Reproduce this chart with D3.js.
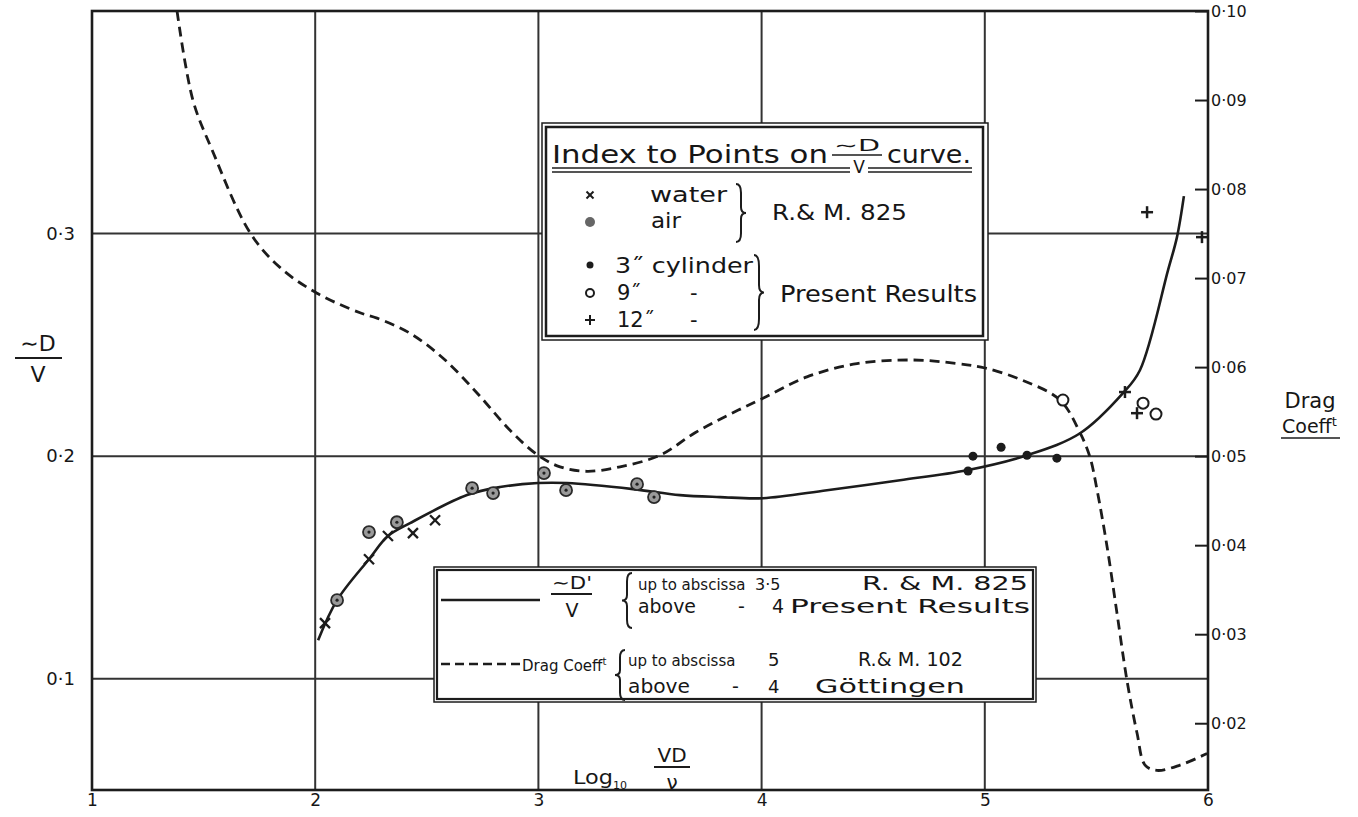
<!DOCTYPE html>
<html><head><meta charset="utf-8">
<script src="https://cdn.jsdelivr.net/npm/d3@7"></script>
<style>
body{margin:0;background:#fff}
text{font-family:"DejaVu Sans",sans-serif;fill:#161616}
</style>
</head><body>
<svg id="c" width="1358" height="817"></svg>
<script>
// ---------- data ----------
const xTicks = [1, 2, 3, 4, 5, 6];
const xTickLabels = ["1", "2", "3", "4", "5", "6"];
const leftTicks = [0.1, 0.2, 0.3];
const leftTickLabels = ["0·1", "0·2", "0·3"];
const rightTicks = [0.02, 0.03, 0.04, 0.05, 0.06, 0.07, 0.08, 0.09, 0.10];
const rightTickLabels = ["0·02", "0·03", "0·04", "0·05", "0·06", "0·07", "0·08", "0·09", "0·10"];

// nu D / V curve (left axis)
const nuCurveX = [2.013, 2.098, 2.241, 2.326, 2.425, 2.68, 2.828, 2.998, 3.128, 3.424, 3.634, 3.814, 4.006, 4.293, 4.62, 4.92, 5.189, 5.427, 5.619, 5.695, 5.821, 5.861, 5.892];
const nuCurveY = [0.1173, 0.1353, 0.1537, 0.1641, 0.1699, 0.1825, 0.1861, 0.1879, 0.1879, 0.1852, 0.1825, 0.1816, 0.1811, 0.1847, 0.1892, 0.1937, 0.2004, 0.2103, 0.2283, 0.2386, 0.2836, 0.2984, 0.3168];

// Drag coefficient curve (right axis)
const dragX = [1.381, 1.452, 1.538, 1.708, 1.842, 2.008, 2.201, 2.277, 2.425, 2.573, 2.725, 2.873, 2.998, 3.097, 3.218, 3.366, 3.545, 3.70, 3.85, 4.006, 4.203, 4.427, 4.678, 4.875, 5.001, 5.171, 5.337, 5.427, 5.471, 5.503, 5.548, 5.592, 5.637, 5.682, 5.718, 5.771, 5.875, 5.996];
const dragY = [0.100, 0.0900, 0.0844, 0.0751, 0.0712, 0.0683, 0.0661, 0.0655, 0.0638, 0.0610, 0.0571, 0.0529, 0.0501, 0.0488, 0.0483, 0.0488, 0.0501, 0.0526, 0.0546, 0.0565, 0.0589, 0.0604, 0.0608, 0.0604, 0.0599, 0.0585, 0.0563, 0.0526, 0.0499, 0.0462, 0.0398, 0.0324, 0.0248, 0.0189, 0.0153, 0.0147, 0.0153, 0.0166];

// points
const waterX = [2.044, 2.241, 2.326, 2.438, 2.537];
const waterY = [0.1250, 0.1537, 0.1641, 0.1654, 0.1712];
const airX = [2.098, 2.241, 2.366, 2.703, 2.797, 3.025, 3.124, 3.442, 3.518];
const airY = [0.1353, 0.1659, 0.1703, 0.1856, 0.1834, 0.1924, 0.1847, 0.1874, 0.1816];
const cyl3X = [4.947, 4.925, 5.073, 5.189, 5.323];
const cyl3Y = [0.2000, 0.1933, 0.2040, 0.2004, 0.1991];
const cyl9X = [5.350, 5.709, 5.767];
const cyl9Y = [0.2252, 0.2238, 0.2189];
const cyl12X = [5.628, 5.682, 5.727, 5.973];
const cyl12Y = [0.2288, 0.2193, 0.3096, 0.2984];

// ---------- drawing ----------
const svg = d3.select("#c");
const ink = "#1c1c1c";
const x = d3.scaleLinear([1, 6], [92, 1208]);
const yL = d3.scaleLinear([0.05, 0.4], [790, 11]);
const yR = d3.scaleLinear([0.0125, 0.1], [790, 11]);

// grid
const g = svg.append("g");
g.selectAll(".vg").data(xTicks.slice(1, -1)).join("line")
  .attr("x1", d => x(d)).attr("x2", d => x(d)).attr("y1", yL(0.4)).attr("y2", yL(0.05))
  .attr("stroke", "#333").attr("stroke-width", 2);
g.selectAll(".hg").data(leftTicks).join("line")
  .attr("x1", x(1)).attr("x2", x(6)).attr("y1", d => yL(d)).attr("y2", d => yL(d))
  .attr("stroke", "#333").attr("stroke-width", 2);
// frame
svg.append("rect").attr("x", x(1)).attr("y", yL(0.4)).attr("width", x(6) - x(1)).attr("height", yL(0.05) - yL(0.4))
  .attr("fill", "none").attr("stroke", ink).attr("stroke-width", 2.6);

// axes (labels)
const axB = svg.append("g").attr("transform", `translate(0,${yL(0.05)})`)
  .call(d3.axisBottom(x).tickValues(xTicks).tickSize(0).tickPadding(4).tickFormat((d, i) => xTickLabels[i]));
axB.select(".domain").remove();
axB.selectAll("text").attr("font-size", 17).attr("font-family", "DejaVu Sans").attr("fill", ink);

const axL = svg.append("g").attr("transform", `translate(78,0)`)
  .call(d3.axisLeft(yL).tickValues(leftTicks).tickSize(0).tickPadding(3).tickFormat((d, i) => leftTickLabels[i]));
axL.select(".domain").remove();
axL.selectAll("text").attr("font-size", 18).attr("font-family", "DejaVu Sans").attr("fill", ink);

const axR = svg.append("g").attr("transform", `translate(${x(6)},0)`)
  .call(d3.axisRight(yR).tickValues(rightTicks).tickSizeInner(-13).tickPadding(3).tickFormat((d, i) => rightTickLabels[i]));
axR.select(".domain").remove();
axR.selectAll("line").attr("stroke", ink).attr("stroke-width", 2);
axR.selectAll("text").attr("font-size", 16).attr("font-family", "DejaVu Sans").attr("fill", ink);

// curves
const nuData = nuCurveX.map((v, i) => [v, nuCurveY[i]]);
const dragData = dragX.map((v, i) => [v, dragY[i]]);
svg.append("path").datum(nuData)
  .attr("d", d3.line().x(d => x(d[0])).y(d => yL(d[1])).curve(d3.curveCatmullRom.alpha(0.5)))
  .attr("fill", "none").attr("stroke", ink).attr("stroke-width", 2.6);
svg.append("path").datum(dragData)
  .attr("d", d3.line().x(d => x(d[0])).y(d => yR(d[1])).curve(d3.curveCatmullRom.alpha(0.5)))
  .attr("fill", "none").attr("stroke", ink).attr("stroke-width", 2.8).attr("stroke-dasharray", "10,6");

// markers
function cross(sel, px, py, s, w) {
  sel.append("line").attr("x1", px - s).attr("x2", px + s).attr("y1", py - s).attr("y2", py + s).attr("stroke", ink).attr("stroke-width", w);
  sel.append("line").attr("x1", px - s).attr("x2", px + s).attr("y1", py + s).attr("y2", py - s).attr("stroke", ink).attr("stroke-width", w);
}
function plus(sel, px, py, s, w) {
  sel.append("line").attr("x1", px - s).attr("x2", px + s).attr("y1", py).attr("y2", py).attr("stroke", ink).attr("stroke-width", w);
  sel.append("line").attr("x1", px).attr("x2", px).attr("y1", py - s).attr("y2", py + s).attr("stroke", ink).attr("stroke-width", w);
}
const mk = svg.append("g");
waterX.forEach((v, i) => cross(mk, x(v), yL(waterY[i]), 5, 2.3));
airX.forEach((v, i) => {
  mk.append("circle").attr("cx", x(v)).attr("cy", yL(airY[i])).attr("r", 6).attr("fill", "#9a9a9a").attr("stroke", "#2a2a2a").attr("stroke-width", 1.8);
  mk.append("circle").attr("cx", x(v)).attr("cy", yL(airY[i])).attr("r", 1.6).attr("fill", "#222");
});
cyl3X.forEach((v, i) => mk.append("circle").attr("cx", x(v)).attr("cy", yL(cyl3Y[i])).attr("r", 4.5).attr("fill", ink));
cyl9X.forEach((v, i) => mk.append("circle").attr("cx", x(v)).attr("cy", yL(cyl9Y[i])).attr("r", 5.5).attr("fill", "#fff").attr("stroke", ink).attr("stroke-width", 2));
cyl12X.forEach((v, i) => plus(mk, x(v), yL(cyl12Y[i]), 6, 2.5));

// helpers
function txt(sel, s, tx, ty, fs, opts = {}) {
  const t = sel.append("text").attr("x", tx).attr("y", ty).attr("font-size", fs).text(s);
  if (opts.len) t.attr("textLength", opts.len).attr("lengthAdjust", "spacingAndGlyphs");
  if (opts.anchor) t.attr("text-anchor", opts.anchor);
  return t;
}
// one text element with several positioned pieces: [string, x, textLength?, fontSize?]
function row(sel, ty, fs, parts) {
  const t = sel.append("text").attr("y", ty).attr("font-size", fs);
  parts.forEach(p => {
    const s = t.append("tspan").attr("x", p[1]).text(p[0]);
    if (p[2]) s.attr("textLength", p[2]).attr("lengthAdjust", "spacingAndGlyphs");
    if (p[3]) s.attr("font-size", p[3]);
  });
  return t;
}
function hline(sel, x1, x2, yy, w) {
  sel.append("line").attr("x1", x1).attr("x2", x2).attr("y1", yy).attr("y2", yy).attr("stroke", ink).attr("stroke-width", w);
}
function brace(sel, x0, y0, y1, w) {
  const ym = (y0 + y1) / 2, h = y1 - y0, xm = x0 + w / 2;
  const p = `M${x0},${y0} Q${xm},${y0} ${xm},${y0 + h * 0.15} L${xm},${ym - h * 0.1} Q${xm},${ym} ${x0 + w},${ym} Q${xm},${ym} ${xm},${ym + h * 0.1} L${xm},${y1 - h * 0.15} Q${xm},${y1} ${x0},${y1}`;
  sel.append("path").attr("d", p).attr("fill", "none").attr("stroke", ink).attr("stroke-width", 2);
}

// ---------- legend 1 ----------
const L1 = svg.append("g");
L1.append("rect").attr("x", 542).attr("y", 123).attr("width", 446).attr("height", 217).attr("fill", "#fff").attr("stroke", ink).attr("stroke-width", 1.5);
L1.append("rect").attr("x", 546).attr("y", 127).attr("width", 437).attr("height", 209).attr("fill", "none").attr("stroke", ink).attr("stroke-width", 2.5);
txt(L1, "Index to Points on", 552, 163, 24, { len: 276 });
txt(L1, "∼D", 834, 151, 16, { len: 46 });
hline(L1, 832, 882, 155, 1.6);
txt(L1, "V", 859, 173, 17, { anchor: "middle" });
txt(L1, "curve.", 887, 163, 24, { len: 84 });
hline(L1, 552, 850, 168, 1.6); hline(L1, 868, 972, 168, 1.6);
hline(L1, 552, 850, 172, 1.4); hline(L1, 868, 972, 172, 1.4);
cross(L1, 590, 195, 3.5, 2);
txt(L1, "water", 650, 202, 21, { len: 77 });
L1.append("circle").attr("cx", 590).attr("cy", 222).attr("r", 5).attr("fill", "#666");
txt(L1, "air", 651, 228, 21, { len: 30 });
brace(L1, 736, 184, 242, 10);
txt(L1, "R.& M. 825", 772, 220, 22, { len: 135 });
L1.append("circle").attr("cx", 590).attr("cy", 265).attr("r", 3.5).attr("fill", ink);
txt(L1, "3\u02DD cylinder", 615, 273, 21, { len: 138 });
L1.append("circle").attr("cx", 590).attr("cy", 293).attr("r", 4).attr("fill", "none").attr("stroke", ink).attr("stroke-width", 2);
row(L1, 300, 21, [["9\u02DD", 617], ["-", 690]]);
plus(L1, 590, 320, 5, 2);
row(L1, 327, 21, [["12\u02DD", 617], ["-", 690]]);
brace(L1, 754, 255, 330, 10);
txt(L1, "Present Results", 780, 302, 23, { len: 197 });

// ---------- legend 2 ----------
const L2 = svg.append("g");
L2.append("rect").attr("x", 434).attr("y", 567).attr("width", 602).attr("height", 135).attr("fill", "#fff").attr("stroke", ink).attr("stroke-width", 1.5);
L2.append("rect").attr("x", 437).attr("y", 570).attr("width", 596).attr("height", 129).attr("fill", "none").attr("stroke", ink).attr("stroke-width", 2.2);
hline(L2, 441, 540, 600, 2.5);
txt(L2, "∼D'", 552, 589, 18, { len: 40 });
hline(L2, 551, 592, 594, 1.8);
txt(L2, "V", 572, 617, 19, { anchor: "middle" });
brace(L2, 632, 573, 628, -10);
row(L2, 590, 19, [["up to abscissa", 638, null, 15], ["3·5", 755, null, 16], ["R. & M. 825", 862, 166]]);
row(L2, 613, 19, [["above", 638, 58], ["-", 738], ["4", 772], ["Present Results", 790, 240]]);
L2.append("line").attr("x1", 441).attr("x2", 521).attr("y1", 664).attr("y2", 664).attr("stroke", ink).attr("stroke-width", 2.5).attr("stroke-dasharray", "9,5");
const dc = L2.append("text").attr("x", 522).attr("y", 671).attr("font-size", 15);
dc.append("tspan").text("Drag Coeff");
dc.append("tspan").text("t").attr("font-size", 10).attr("dy", -6);
brace(L2, 625, 650, 700, -10);
row(L2, 666, 19, [["up to abscissa", 628, null, 15], ["5", 768, null, 18], ["R.& M. 102", 858, 105]]);
row(L2, 693, 19, [["above", 628, 62], ["-", 732], ["4", 768, null, 18], ["Göttingen", 815, 150]]);

// ---------- axis titles ----------
txt(svg, "∼D", 38, 351, 22, { anchor: "middle" });
hline(svg, 15, 62, 358, 2);
txt(svg, "V", 38, 382, 22, { anchor: "middle" });

txt(svg, "Drag", 1310, 408, 21, { anchor: "middle" });
const ct = svg.append("text").attr("x", 1282).attr("y", 433).attr("font-size", 19);
ct.append("tspan").text("Coeff");
ct.append("tspan").text("t").attr("font-size", 13).attr("dy", -7);
hline(svg, 1281, 1340, 438, 1.6);

const lg = svg.append("text").attr("x", 573).attr("y", 784).attr("font-size", 20);
lg.append("tspan").text("Log").attr("textLength", 40).attr("lengthAdjust", "spacingAndGlyphs");
lg.append("tspan").text("10").attr("font-size", 11).attr("dy", 5);
txt(svg, "VD", 672, 762, 20, { anchor: "middle" });
hline(svg, 654, 690, 767, 2);
txt(svg, "ν", 672, 789, 20, { anchor: "middle" });
</script>
</body></html>
